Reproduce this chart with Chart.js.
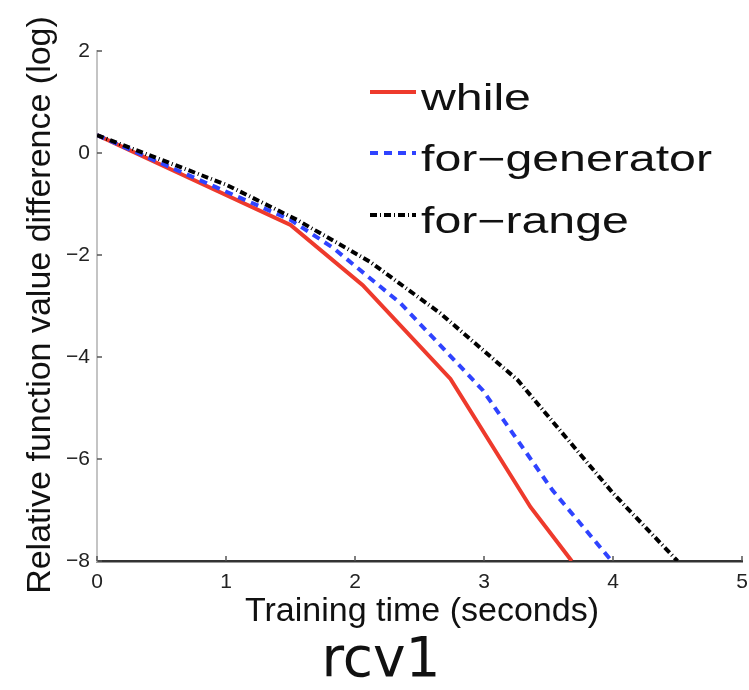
<!DOCTYPE html>
<html>
<head>
<meta charset="utf-8">
<title>rcv1</title>
<script src="https://cdn.jsdelivr.net/npm/chart.js@4/dist/chart.umd.min.js"></script>
<style>
  html, body { margin: 0; padding: 0; background: #fff; }
  #wrap { width: 749px; height: 690px; }
</style>
</head>
<body>
<div id="wrap"><canvas id="rcv1Chart" width="749" height="690"></canvas></div>
<script>
// Training time (s) vs relative function value difference (log) on rcv1
const seriesNames = ['while', 'for\u2212generator', 'for\u2212range'];

const whileTime = [0, 1.5, 2.06, 2.74, 3.36, 3.68];
const whileDiff = [0.35, -1.41, -2.59, -4.43, -6.94, -8];

const generatorTime = [0, 1.5, 1.83, 2.35, 2.99, 3.53, 3.99];
const generatorDiff = [0.35, -1.31, -1.86, -2.94, -4.65, -6.61, -8];

const rangeTime = [0, 1, 1.55, 2.12, 2.66, 3.26, 4.0, 4.5];
const rangeDiff = [0.35, -0.62, -1.31, -2.14, -3.14, -4.45, -6.67, -8];

const xTicks = [0, 1, 2, 3, 4, 5];
const yTicks = [2, 0, -2, -4, -6, -8];

const xTitle = 'Training time (seconds)';
const yTitle = 'Relative function value difference (log)';
const chartCaption = 'rcv1';

const SANS = '"Liberation Sans", Arial, Helvetica, sans-serif';

function toPoints(xs, ys) {
    return xs.map((x, i) => ({ x: x, y: ys[i] }));
}

function fmtTick(v) {
    return String(v).replace('-', '\u2212');
}

// inward tick marks, titles, caption and the in-plot legend
const decorations = {
    id: 'decorations',
    afterDraw(chart) {
        const ctx = chart.ctx;
        const area = chart.chartArea;
        const xs = chart.scales.x;
        const ys = chart.scales.y;

        ctx.save();
        ctx.strokeStyle = '#555';
        ctx.lineWidth = 1.5;
        xTicks.forEach(v => {
            const px = xs.getPixelForValue(v);
            ctx.beginPath();
            ctx.moveTo(px, area.bottom);
            ctx.lineTo(px, area.bottom - 5);
            ctx.stroke();
        });
        yTicks.forEach(v => {
            const py = ys.getPixelForValue(v);
            ctx.beginPath();
            ctx.moveTo(area.left, py);
            ctx.lineTo(area.left + 5, py);
            ctx.stroke();
        });
        ctx.restore();

        // axis titles
        ctx.save();
        ctx.fillStyle = '#111';
        ctx.font = '34px ' + SANS;
        ctx.textAlign = 'center';
        ctx.textBaseline = 'alphabetic';
        ctx.fillText(xTitle, 422, 621);
        ctx.translate(50, 305);
        ctx.rotate(-Math.PI / 2);
        ctx.fillText(yTitle, 0, 0);
        ctx.restore();

        // caption under the plot
        ctx.save();
        ctx.fillStyle = '#111';
        ctx.font = '55px "DejaVu Sans", Verdana, sans-serif';
        ctx.textAlign = 'center';
        ctx.textBaseline = 'alphabetic';
        ctx.fillText(chartCaption, 381, 676);
        ctx.restore();

        // legend
        const rows = [92, 153, 215];
        chart.data.datasets.forEach((ds, i) => {
            const y = rows[i];
            ctx.save();
            ctx.strokeStyle = ds.borderColor;
            ctx.lineWidth = ds.borderWidth;
            ctx.setLineDash(ds.borderDash || []);
            ctx.beginPath();
            ctx.moveTo(370, y);
            ctx.lineTo(416, y);
            ctx.stroke();
            ctx.restore();

            ctx.save();
            ctx.fillStyle = '#111';
            ctx.font = '36px ' + SANS;
            ctx.textAlign = 'left';
            ctx.textBaseline = 'alphabetic';
            ctx.translate(421, y + 18);
            ctx.scale(1.34, 1);
            ctx.fillText(ds.label, 0, 0);
            ctx.restore();
        });
    }
};

const rcv1Config = {
    type: 'line',
    data: {
        datasets: [{
            label: seriesNames[0],
            data: toPoints(whileTime, whileDiff),
            borderColor: '#ee3a2c',
            borderWidth: 4,
            order: 2
        }, {
            label: seriesNames[1],
            data: toPoints(generatorTime, generatorDiff),
            borderColor: '#2f43ff',
            borderWidth: 4,
            borderDash: [8, 6],
            order: 1
        }, {
            label: seriesNames[2],
            data: toPoints(rangeTime, rangeDiff),
            borderColor: '#000000',
            borderWidth: 4,
            borderDash: [7, 3, 1, 3],
            order: 0
        }]
    },
    options: {
        responsive: false,
        animation: false,
        events: [],
        elements: {
            point: { radius: 0 },
            line: { tension: 0, fill: false, borderCapStyle: 'butt' }
        },
        layout: {
            padding: { left: 47, right: 7, top: 51, bottom: 89 }
        },
        plugins: {
            legend: { display: false },
            tooltip: { enabled: false }
        },
        scales: {
            x: {
                type: 'linear',
                min: 0,
                max: 5,
                afterBuildTicks: s => { s.ticks = xTicks.map(v => ({ value: v })); },
                afterFit: s => {
                    s.height = 40;
                    s.paddingLeft = 0;
                    s.paddingRight = 0;
                },
                grid: { display: false, drawTicks: false },
                border: { display: true, color: '#333', width: 2.5 },
                ticks: {
                    padding: 9,
                    color: '#222',
                    maxRotation: 0,
                    font: { family: SANS, size: 21 },
                    callback: fmtTick
                }
            },
            y: {
                type: 'linear',
                min: -8,
                max: 2,
                afterBuildTicks: s => { s.ticks = yTicks.map(v => ({ value: v })); },
                afterFit: s => { s.width = 50; },
                grid: { display: false, drawTicks: false },
                border: { display: true, color: '#c4c4c4', width: 2 },
                ticks: {
                    padding: 7,
                    color: '#222',
                    font: { family: SANS, size: 21 },
                    callback: fmtTick
                }
            }
        }
    },
    plugins: [decorations]
};

new Chart(document.getElementById('rcv1Chart'), rcv1Config);
</script>
</body>
</html>
